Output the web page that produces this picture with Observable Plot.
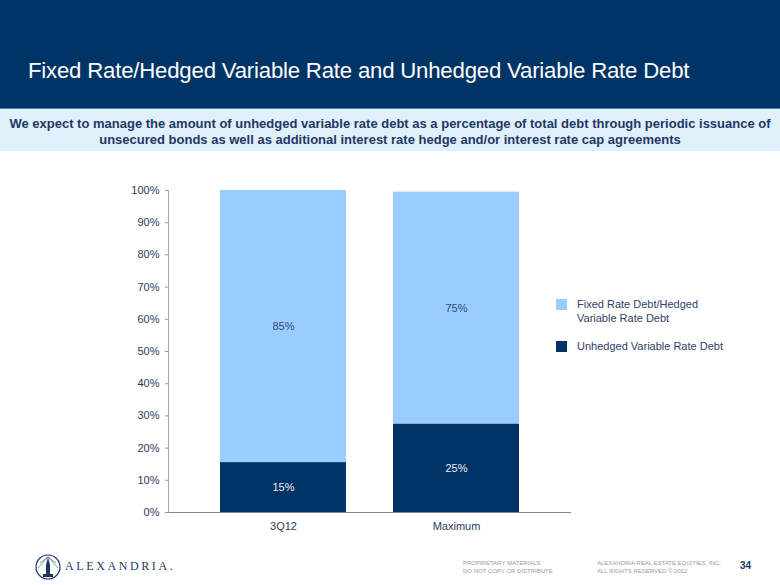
<!DOCTYPE html>
<html>
<head>
<meta charset="utf-8">
<script src="https://cdn.jsdelivr.net/npm/d3@7"></script>
<script src="https://cdn.jsdelivr.net/npm/@observablehq/plot@0.6"></script>
<style>
  html, body { margin: 0; padding: 0; background: #fff; }
  body { width: 780px; height: 585px; position: relative; overflow: hidden; font-family: "Liberation Sans", Arial, sans-serif; }
  #header { position: absolute; left: 0; top: 0; width: 780px; height: 108px; background: #003366; }
  #title { position: absolute; left: 28px; top: 58px; color: #fff; font-size: 22.2px; white-space: nowrap; letter-spacing: -0.2px; }
  #subband { position: absolute; left: 0; top: 108px; width: 780px; height: 43px; background: #e1f1fc; border-top: 1px solid #5a7fae; box-sizing: border-box; }
  #subtitle { position: absolute; left: 0; top: 116px; width: 780px; text-align: center; color: #1f3864; font-weight: bold; font-size: 13px; letter-spacing: 0px; line-height: 16px; white-space: nowrap; }
  #chart { position: absolute; left: 0; top: 170px; }
  .legend { position: absolute; left: 556px; font-size: 11px; color: #2f3e6b; line-height: 14px; }
  .legend .sw { position: absolute; left: 0; width: 11px; height: 11px; }
  .legend .lt { position: absolute; left: 21px; white-space: nowrap; }
  .foot { position: absolute; font-size: 6px; color: #9a9a9a; line-height: 8px; white-space: nowrap; }
  #brand { position: absolute; left: 65px; top: 559px; font-family: "Liberation Serif", serif; font-size: 12px; letter-spacing: 2.6px; color: #1f3864; white-space: nowrap; }
  #page { position: absolute; left: 740px; top: 560px; font-size: 10px; font-weight: bold; color: #1f3864; }
</style>
</head>
<body>
<div id="header"><div id="title">Fixed Rate/Hedged Variable Rate and Unhedged Variable Rate Debt</div></div>
<div id="subband"></div>
<div id="subtitle">We expect to manage the amount of unhedged variable rate debt as a percentage of total debt through periodic issuance of<br>unsecured bonds as well as additional interest rate hedge and/or interest rate cap agreements</div>
<div id="chart"></div>
<div id="legend"></div>
<svg style="position:absolute;left:34px;top:553px" width="28" height="28" viewBox="0 0 28 28">
  <circle cx="14" cy="14" r="12" fill="none" stroke="#1f3864" stroke-width="1.2"/>
  <path d="M12 24 L12 12 L13 8 L14 4 L15 8 L16 12 L16 24 Z" fill="#1f3864"/>
  <rect x="9" y="21" width="10" height="3" fill="#1f3864"/>
  <path d="M14 4 L6 10 M14 4 L22 10 M14 4 L4 15 M14 4 L24 15" stroke="#1f3864" stroke-width="0.5"/>
</svg>
<div id="brand">ALEXANDRIA.</div>
<div class="foot" style="left:463px;top:559px">PROPRIETARY MATERIALS<br>DO NOT COPY OR DISTRIBUTE</div>
<div class="foot" style="left:597px;top:559px">ALEXANDRIA REAL ESTATE EQUITIES, INC.<br>ALL RIGHTS RESERVED © 2012</div>
<div id="page">34</div>
<script>
const categories = ["3Q12", "Maximum"];
const seriesNames = ["Unhedged Variable Rate Debt", "Fixed Rate Debt/Hedged Variable Rate Debt"];
const unhedgedValues = [15.5, 27.5];
const fixedValues = [84.5, 72];
const unhedgedLabels = ["15%", "25%"];
const fixedLabels = ["85%", "75%"];
const yTicks = [0, 10, 20, 30, 40, 50, 60, 70, 80, 90, 100];
const colors = ["#003366", "#99ccff"];

const data = [];
categories.forEach((c, i) => {
  data.push({cat: c, series: seriesNames[0], value: unhedgedValues[i], label: unhedgedLabels[i], order: 0});
  data.push({cat: c, series: seriesNames[1], value: fixedValues[i], label: fixedLabels[i], order: 1});
});

const chart = Plot.plot({
  width: 780,
  height: 370,
  marginTop: 20,
  marginBottom: 28,
  marginLeft: 168,
  marginRight: 209,
  style: {fontFamily: "Liberation Sans, Arial, sans-serif", fontSize: "11px", color: "#2b3a5c", background: "transparent"},
  x: {domain: categories, range: [220, 519.5], paddingInner: 0.2738, paddingOuter: 0, label: null},
  y: {domain: [0, 100], label: null},
  color: {domain: seriesNames, range: colors},
  marks: [
    Plot.barY(data, Plot.stackY({x: "cat", y: "value", z: "series", order: "order", fill: "series", inset: 0})),
    Plot.textY(data, Plot.stackY({x: "cat", y: "value", z: "series", order: "order", text: "label",
      fill: d => d.order === 0 ? "#e8eef8" : "#2f4a7a", fontSize: 11})),
    Plot.axisY({ticks: yTicks, tickFormat: d => d + "%", tickSize: 3, tickPadding: 6, stroke: "#999", fill: "#2b3a5c", fontSize: 11, label: null}),
    Plot.axisX({tickSize: 0, tickPadding: 10, fill: "#2b3a5c", fontSize: 11, label: null}),
    Plot.ruleY([0], {stroke: "#888", strokeWidth: 1.2}),
    Plot.frame({anchor: "left", stroke: "#aaa"})
  ]
});
document.getElementById("chart").appendChild(chart);

const legend = document.getElementById("legend");
const legendItems = [
  {name: "Fixed Rate Debt/Hedged<br>Variable Rate Debt", color: colors[1], top: 299},
  {name: "Unhedged Variable Rate Debt", color: colors[0], top: 341}
];
legendItems.forEach(it => {
  const d = document.createElement("div");
  d.className = "legend";
  d.style.top = it.top + "px";
  d.innerHTML = `<div class="sw" style="background:${it.color};top:0"></div><div class="lt" style="top:-2px">${it.name}</div>`;
  legend.appendChild(d);
});
</script>
</body>
</html>
